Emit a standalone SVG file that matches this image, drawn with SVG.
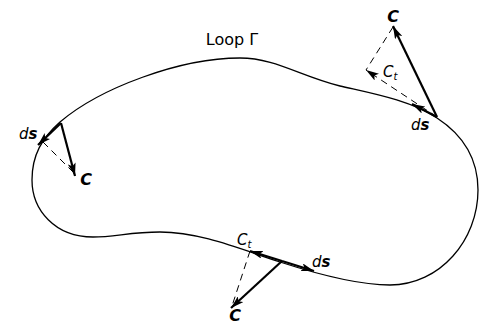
<svg xmlns="http://www.w3.org/2000/svg" width="485" height="325" viewBox="0 0 485 325">
<defs>
<style>
.curve{fill:none;stroke:#000;stroke-width:1.3}
.vec{fill:none;stroke:#000;stroke-width:2.2;marker-end:url(#ah)}
.dash{fill:none;stroke:#000;stroke-width:1;stroke-dasharray:7,5}
.dasharr{fill:none;stroke:#000;stroke-width:1;stroke-dasharray:7,5;marker-end:url(#ah)}
text{font-family:"DejaVu Sans","Liberation Sans",sans-serif;fill:#000}
.bi{font-size:16px;font-style:italic;font-weight:bold}
.it{font-size:15px;font-style:italic}
.title{font-size:16px}
</style>
<marker id="ah" markerWidth="13" markerHeight="8" refX="13" refY="4" orient="auto" markerUnits="userSpaceOnUse">
<path d="M0,0 L13,4 L0,8 L3,4 z" fill="#000"/>
</marker>
</defs>
<g id="loop">
<path class="curve" d="M240,58 C275,58 300,76 340,86 C370,93 410,100 437,118 C460,133 478,155 478,190 C478,240 440,285 390,285 C360,285 320,275 280,262 C240,249 200,232 160,232 C130,232 115,237 93,237 C55,237 32,210 32,180 C32,155 42,138 60,122 C100,88 180,58 240,58 Z"/>
<text class="title" x="232" y="45" text-anchor="middle">Loop Γ</text>
</g>
<g id="connectors">
<!-- top right -->
<line class="dash" x1="393" y1="27" x2="366" y2="70"/>
<line class="dasharr" x1="437" y1="117" x2="366" y2="70"/>
<line class="vec" x1="437" y1="117" x2="393" y2="26"/>
<line class="vec" x1="437" y1="117" x2="412" y2="104"/>
<!-- left -->
<line class="dash" x1="43" y1="142" x2="75" y2="174"/>
<line class="vec" x1="61" y1="123" x2="75" y2="176"/>
<line class="vec" x1="61" y1="123" x2="38" y2="145"/>
<!-- bottom -->
<line class="dash" x1="250" y1="251" x2="232" y2="306"/>
<line class="vec" x1="282" y1="261" x2="231" y2="308"/>
<line class="vec" x1="282" y1="261" x2="250" y2="251"/>
<line class="vec" x1="282" y1="261" x2="314" y2="271"/>
</g>
<g id="labels-top">
<text class="bi" x="393" y="22" text-anchor="middle">C</text>
<text class="it" x="383" y="77">C<tspan font-size="10" dy="3">t</tspan></text>
<text class="it" x="411" y="130">d<tspan font-weight="bold">s</tspan></text>
</g>
<g id="labels-left">
<text class="bi" x="86" y="185" text-anchor="middle">C</text>
<text class="it" x="19" y="139">d<tspan font-weight="bold">s</tspan></text>
</g>
<g id="labels-bottom">
<text class="bi" x="235" y="321" text-anchor="middle">C</text>
<text class="it" x="237" y="245">C<tspan font-size="10" dy="3">t</tspan></text>
<text class="it" x="312" y="267">d<tspan font-weight="bold">s</tspan></text>
</g>
</svg>
